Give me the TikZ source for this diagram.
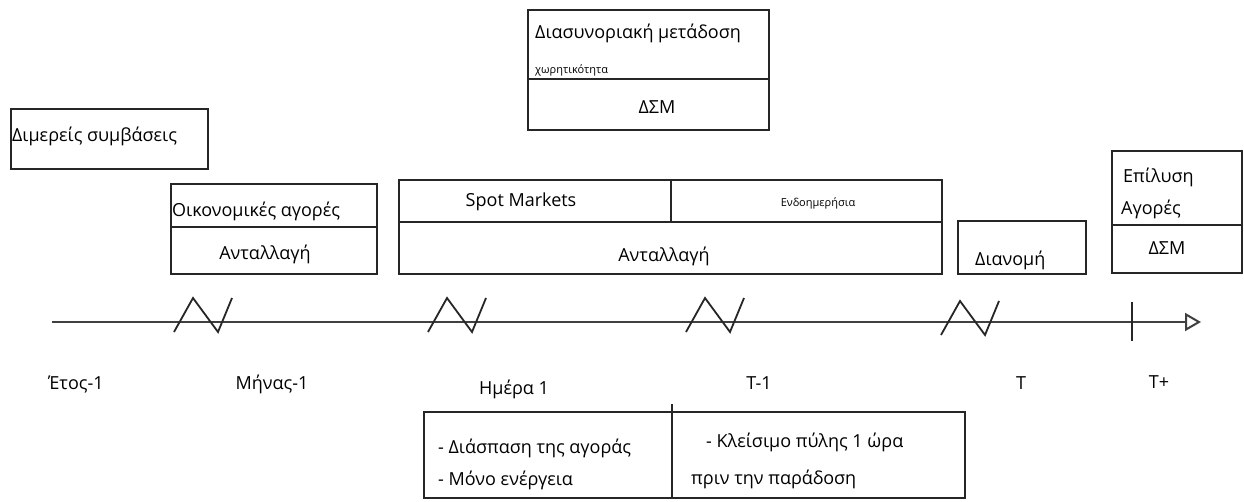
\documentclass[tikz,border=0pt]{standalone}
\usepackage{fontspec}
\setmainfont{Open Sans}
\usetikzlibrary{arrows.meta,calc}
\begin{document}
\begin{tikzpicture}[x=1pt,y=-1pt,
  frame/.style={draw=black!85,line width=1.8pt,rectangle,inner sep=0pt},
  lbl/.style={inner sep=0pt,font=\fontsize{18}{20}\selectfont,text=black},
  small/.style={inner sep=0pt,font=\fontsize{11}{13}\selectfont,text=black},
  divline/.style={draw=black!85,line width=1.8pt},
  axisline/.style={draw=black!75,line width=2.4pt},
  zig/.style={draw=black!85,line width=1.8pt,line join=miter}]
\useasboundingbox[fill=white] (0,0) rectangle (1244,502);

% boxes
\node[frame,anchor=north west,minimum width=197pt,minimum height=60pt] (bilat) at (10,108) {};
\node[frame,anchor=north west,minimum width=206pt,minimum height=90pt] (fin) at (170,183) {};
\node[frame,anchor=north west,minimum width=543pt,minimum height=94pt] (spot) at (398,179) {};
\node[frame,anchor=north west,minimum width=241pt,minimum height=120pt] (cross) at (527,9) {};
\node[frame,anchor=north west,minimum width=128pt,minimum height=53pt] (dist) at (957,220) {};
\node[frame,anchor=north west,minimum width=130pt,minimum height=122pt] (res) at (1111,150) {};
\node[frame,anchor=north west,minimum width=541pt,minimum height=86pt] (bot) at (423,411) {};

% dividers
\draw[divline] (fin.west |- 0,227) -- (fin.east |- 0,227);
\draw[divline] (spot.west |- 0,222) -- (spot.east |- 0,222);
\draw[divline] (671,0 |- spot.north) -- (671,222);
\draw[divline] (cross.west |- 0,79) -- (cross.east |- 0,79);
\draw[divline] (res.west |- 0,225) -- (res.east |- 0,225);
\coordinate (bvtop) at (672,404);
\draw[divline] (bvtop) -- (bvtop |- bot.south);

% axis
\coordinate (axstart) at (52,322);
\coordinate (axend) at (1201,322);
\draw[axisline,-{Triangle[open,length=16pt,width=18pt,line width=2pt]}] (axstart) -- (axend);
\coordinate (tick) at (1132,302);
\draw[divline] (tick) -- ++(0,39);

% zigzags
\foreach \x/\dy in {174/0,428/0,686/0,941/3}{
  \draw[zig] (\x,332+\dy) -- ++(19,-34) -- ++(25,34) -- ++(14,-34);
}

% time labels
\node[lbl] (t1) at (76,384) {Έτος-1};
\node[lbl] (t2) at (272,384) {Μήνας-1};
\node[lbl] (t3) at (514,389) {Ημέρα 1};
\node[lbl] (t4) at (759,383) {T-1};
\node[lbl] (t5) at (1021,383) {T};
\node[lbl] (t6) at (1159,382) {T+};

% box texts
\node[lbl,anchor=west] (bilatT) at (12,136) {Διμερείς συμβάσεις};
\node[lbl,anchor=west] (finT) at (172,211) {Οικονομικές αγορές};
\node[lbl] (finB) at (265,254) {Ανταλλαγή};
\node[lbl] (spotT) at (521,202) {Spot Markets};
\node[small] (intra) at (818,203) {Ενδοημερήσια};
\node[lbl] (spotB) at (664,256) {Ανταλλαγή};
\node[lbl,anchor=west] (crossT) at (535,33) {Διασυνοριακή μετάδοση};
\node[small,anchor=west] (cap) at (535,70) {χωρητικότητα};
\node[lbl] (crossB) at (657,107) {ΔΣΜ};
\node[lbl,anchor=west] (resT1) at (1123,177) {Επίλυση};
\node[lbl,anchor=west] (resT2) at (1121,209) {Αγορές};
\node[lbl] (resB) at (1167,248) {ΔΣΜ};
\node[lbl,anchor=west] (distT) at (975,260) {Διανομή};
\node[lbl,anchor=west] (bl1) at (438,448) {- Διάσπαση της αγοράς};
\node[lbl,anchor=west] (bl2) at (438,480) {- Μόνο ενέργεια};
\node[lbl,anchor=west] (br1) at (706,442) {- Κλείσιμο πύλης 1 ώρα};
\node[lbl,anchor=west] (br2) at (691,479) {πριν την παράδοση};
\end{tikzpicture}
\end{document}
